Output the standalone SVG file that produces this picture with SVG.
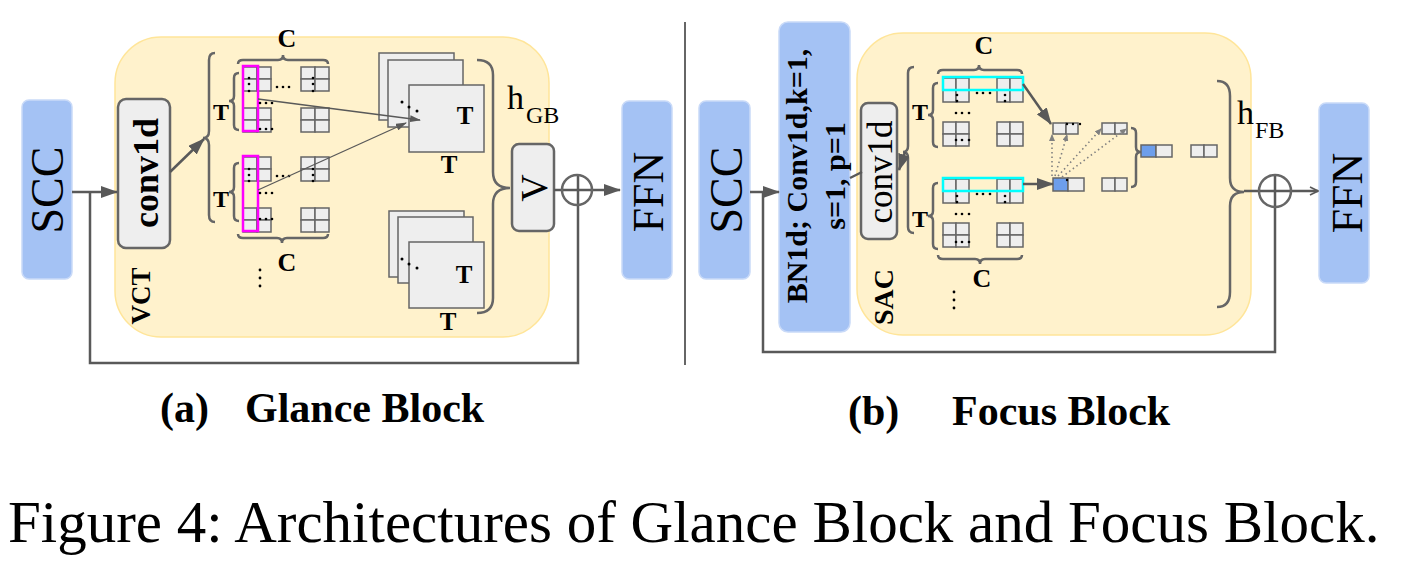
<svg xmlns="http://www.w3.org/2000/svg" xmlns:xlink="http://www.w3.org/1999/xlink" width="1403" height="582" viewBox="0 0 1403 582">
<style>
.blue{fill:#a4c2f4;stroke:#c9daf8;stroke-width:1.5}
.yel{fill:#fff2cc;stroke:#ffe599;stroke-width:1.5}
.gbox{fill:#eeeeee;stroke:#666666;stroke-width:2.5}
.cell{fill:#eeeeee;stroke:#666666;stroke-width:1.5}
.bcell{fill:#6d9eeb;stroke:#666666;stroke-width:1.5}
.sq{fill:#eeeeee;stroke:#666666;stroke-width:1.5}
.ln{fill:none;stroke:#595959;stroke-width:2.5}
.thin{fill:none;stroke:#595959;stroke-width:1.3}
.dot{fill:none;stroke:#808080;stroke-width:1.6;stroke-dasharray:1.5 3}
.brace{fill:none;stroke:#666666;stroke-width:2.5}
.mag{fill:none;stroke:#ff00ff;stroke-width:2.5}
.cy{fill:none;stroke:#00ffff;stroke-width:2.5}
text{font-family:"Liberation Serif","Times New Roman",serif;fill:#000}
.b{font-weight:bold}
.d{fill:#000}
</style>
<defs>
<marker id="aBig" markerUnits="userSpaceOnUse" markerWidth="17" markerHeight="12" viewBox="0 0 17 12" refX="16" refY="6" orient="auto"><path d="M0,0 L17,6 L0,12 z" fill="#595959"/></marker>
<marker id="aSm" markerUnits="userSpaceOnUse" markerWidth="11" markerHeight="7" viewBox="0 0 11 7" refX="10" refY="3.5" orient="auto"><path d="M0,0 L11,3.5 L0,7 z" fill="#595959"/></marker>
<marker id="aTiny" markerUnits="userSpaceOnUse" markerWidth="7" markerHeight="6" viewBox="0 0 7 6" refX="6" refY="3" orient="auto"><path d="M0,0 L7,3 L0,6 z" fill="#808080"/></marker>
<marker id="aOpen" markerUnits="userSpaceOnUse" markerWidth="10" markerHeight="10" viewBox="0 0 10 10" refX="9" refY="5" orient="auto"><path d="M1,1 L9,5 L1,9" fill="none" stroke="#595959" stroke-width="1.6"/></marker>
<g id="bA"><rect class="cell" x="0" y="0" width="14" height="12"/><rect class="cell" x="14" y="0" width="14" height="12"/><rect class="cell" x="0" y="12" width="14" height="12"/><rect class="cell" x="14" y="12" width="14" height="12"/></g>
<g id="bB"><rect class="cell" x="0" y="0" width="13" height="12"/><rect class="cell" x="13" y="0" width="13" height="12"/><rect class="cell" x="0" y="12" width="13" height="12"/><rect class="cell" x="13" y="12" width="13" height="12"/></g>
</defs>
<rect width="1403" height="582" fill="#ffffff"/>

<!-- ===== (a) Glance Block ===== -->
<g id="vct">
<rect class="yel" x="115" y="37" width="434" height="300" rx="46"/>
<text class="b" transform="translate(150,296) rotate(-90)" font-size="27" text-anchor="middle">VCT</text>
</g>
<g id="scc-a">
<rect class="blue" x="22" y="100" width="50" height="179" rx="7"/>
<text transform="translate(63,190) rotate(-90)" font-size="46" text-anchor="middle">SCC</text>
</g>
<g id="conv1d-a">
<rect class="gbox" x="118" y="99" width="52" height="149" rx="8"/>
<text class="b" transform="translate(158,173) rotate(-90)" font-size="36" text-anchor="middle">conv1d</text>
</g>
<g id="grid-a">
<path class="brace" d="M215 53 Q209 53 209 60 L209 131 Q209 138 203 138 Q209 138 209 145 L209 215 Q209 222 215 222"/>
<path class="brace" d="M238 64 Q238 60 243 60 L278 60 Q283 60 283 55 Q283 60 288 60 L323 60 Q328 60 328 64"/>
<text class="b" x="287" y="47" font-size="26" text-anchor="middle">C</text>
<path class="brace" d="M239 73 Q234 73 234 78 L234 96 Q234 101 229 101 Q234 101 234 106 L234 125 Q234 130 239 130"/>
<text class="b" x="221" y="120" font-size="24" text-anchor="middle">T</text>
<use xlink:href="#bA" x="243" y="67"/>
<use xlink:href="#bA" x="301" y="67"/>
<use xlink:href="#bA" x="243" y="108"/>
<use xlink:href="#bA" x="301" y="108"/>
<rect class="mag" x="243" y="66" width="15" height="65"/>
<g class="d">
<circle cx="249" cy="78" r="1.3"/><circle cx="249" cy="84" r="1.3"/><circle cx="249" cy="91" r="1.3"/>
<circle cx="313" cy="78" r="1.3"/><circle cx="313" cy="84" r="1.3"/><circle cx="313" cy="91" r="1.3"/>
<circle cx="277" cy="87" r="1.3"/><circle cx="283" cy="87" r="1.3"/><circle cx="289" cy="87" r="1.3"/>
<circle cx="260" cy="103" r="1.3"/><circle cx="266" cy="103" r="1.3"/><circle cx="272" cy="103" r="1.3"/>
<circle cx="260" cy="129" r="1.3"/><circle cx="266" cy="129" r="1.3"/><circle cx="272" cy="129" r="1.3"/>
</g>
<path class="brace" d="M239 163 Q234 163 234 168 L234 187 Q234 192 229 192 Q234 192 234 197 L234 216 Q234 221 239 221"/>
<text class="b" x="221" y="207" font-size="24" text-anchor="middle">T</text>
<use xlink:href="#bA" x="243" y="157"/>
<use xlink:href="#bA" x="301" y="157"/>
<use xlink:href="#bA" x="243" y="208"/>
<use xlink:href="#bA" x="301" y="208"/>
<rect class="mag" x="243" y="156" width="15" height="75"/>
<g class="d">
<circle cx="249" cy="169" r="1.3"/><circle cx="249" cy="175" r="1.3"/><circle cx="249" cy="181" r="1.3"/>
<circle cx="313" cy="169" r="1.3"/><circle cx="313" cy="175" r="1.3"/><circle cx="313" cy="181" r="1.3"/>
<circle cx="277" cy="176" r="1.3"/><circle cx="283" cy="176" r="1.3"/><circle cx="289" cy="176" r="1.3"/>
<circle cx="260" cy="193" r="1.3"/><circle cx="266" cy="193" r="1.3"/><circle cx="272" cy="193" r="1.3"/>
<circle cx="260" cy="219" r="1.3"/><circle cx="266" cy="219" r="1.3"/><circle cx="272" cy="219" r="1.3"/>
<circle cx="260" cy="270" r="1.4"/><circle cx="260" cy="278" r="1.4"/><circle cx="260" cy="286" r="1.4"/>
</g>
<path class="brace" d="M238 234 Q238 238 243 238 L277 238 Q282 238 282 243 Q282 238 287 238 L323 238 Q328 238 328 234"/>
<text class="b" x="287" y="271" font-size="26" text-anchor="middle">C</text>
</g>
<g id="stack-a1">
<rect class="sq" x="379" y="53" width="75" height="67"/>
<rect class="sq" x="388" y="60" width="75" height="67"/>
<rect class="sq" x="409" y="85" width="75" height="67"/>
<g class="d"><circle cx="402" cy="102" r="1.5"/><circle cx="409" cy="107" r="1.5"/><circle cx="417" cy="111" r="1.5"/></g>
<text class="b" x="465" y="124" font-size="25" text-anchor="middle">T</text>
<text class="b" x="449" y="173" font-size="25" text-anchor="middle">T</text>
</g>
<g id="stack-a2">
<rect class="sq" x="389" y="211" width="75" height="66"/>
<rect class="sq" x="398" y="217" width="75" height="66"/>
<rect class="sq" x="409" y="242" width="75" height="66"/>
<g class="d"><circle cx="402" cy="259" r="1.5"/><circle cx="409" cy="264" r="1.5"/><circle cx="417" cy="268" r="1.5"/></g>
<text class="b" x="464" y="283" font-size="25" text-anchor="middle">T</text>
<text class="b" x="448" y="330" font-size="25" text-anchor="middle">T</text>
</g>
<g id="hgb">
<path class="brace" d="M477 60 Q493 60 493 75 L493 172 Q493 188 510 188 Q493 188 493 204 L493 298 Q493 313 477 313"/>
<text x="507" y="109" font-size="34">h<tspan x="526" y="123" font-size="24">GB</tspan></text>
</g>
<g id="v-box">
<rect class="gbox" x="512" y="144" width="42" height="87" rx="7"/>
<text transform="translate(547,188) rotate(-90)" font-size="38" text-anchor="middle">V</text>
</g>
<g id="ffn-a">
<rect class="blue" x="622" y="101" width="50" height="178" rx="7"/>
<text transform="translate(663,192) rotate(-90)" font-size="44" text-anchor="middle">FFN</text>
</g>

<!-- ===== (b) Focus Block ===== -->
<g id="sac">
<rect class="yel" x="857" y="33" width="394" height="302" rx="46"/>
<text class="b" transform="translate(893,297) rotate(-90)" font-size="28" text-anchor="middle">SAC</text>
</g>
<g id="scc-b">
<rect class="blue" x="699" y="101" width="51" height="178" rx="7"/>
<text transform="translate(742,190) rotate(-90)" font-size="46" text-anchor="middle">SCC</text>
</g>
<g id="bn1d">
<rect class="blue" x="779" y="22" width="71" height="310" rx="9"/>
<text class="b" transform="translate(807,176) rotate(-90)" font-size="30" text-anchor="middle">BN1d; Conv1d,k=1,</text>
<text class="b" transform="translate(845,176) rotate(-90)" font-size="30" text-anchor="middle">s=1, p=1</text>
</g>
<g id="conv1d-b">
<rect class="gbox" x="861" y="103" width="36" height="136" rx="7"/>
<text transform="translate(892,172) rotate(-90)" font-size="35" text-anchor="middle">conv1d</text>
</g>
<g id="grid-b">
<path class="brace" d="M914 67 Q908 67 908 73 L908 146 Q908 152 903 152 Q908 152 908 158 L908 227 Q908 233 914 233"/>
<path class="brace" d="M938 74 Q938 70 943 70 L974 70 Q979 70 979 65 Q979 70 984 70 L1017 70 Q1022 70 1022 74"/>
<text class="b" x="984" y="54" font-size="26" text-anchor="middle">C</text>
<path class="brace" d="M938 83 Q933 83 933 88 L933 110 Q933 115 928 115 Q933 115 933 120 L933 142 Q933 147 938 147"/>
<text class="b" x="920" y="120" font-size="24" text-anchor="middle">T</text>
<use xlink:href="#bB" x="943" y="78"/>
<use xlink:href="#bB" x="997" y="78"/>
<use xlink:href="#bB" x="943" y="122"/>
<use xlink:href="#bB" x="997" y="122"/>
<rect class="cy" x="943" y="77" width="80" height="13"/>
<g class="d">
<circle cx="957" cy="95" r="1.3"/><circle cx="957" cy="101" r="1.3"/>
<circle cx="1005" cy="95" r="1.3"/><circle cx="1005" cy="101" r="1.3"/>
<circle cx="977" cy="93" r="1.3"/><circle cx="983" cy="93" r="1.3"/><circle cx="990" cy="93" r="1.3"/>
<circle cx="956" cy="113" r="1.3"/><circle cx="962" cy="113" r="1.3"/><circle cx="969" cy="113" r="1.3"/>
<circle cx="956" cy="140" r="1.3"/><circle cx="962" cy="140" r="1.3"/><circle cx="969" cy="140" r="1.3"/>
</g>
<path class="brace" d="M938 183 Q933 183 933 188 L933 211 Q933 216 928 216 Q933 216 933 221 L933 244 Q933 249 938 249"/>
<text class="b" x="920" y="227" font-size="24" text-anchor="middle">T</text>
<use xlink:href="#bB" x="943" y="179"/>
<use xlink:href="#bB" x="997" y="179"/>
<use xlink:href="#bB" x="943" y="223"/>
<use xlink:href="#bB" x="997" y="223"/>
<rect class="cy" x="943" y="178" width="80" height="13"/>
<g class="d">
<circle cx="957" cy="196" r="1.3"/><circle cx="957" cy="202" r="1.3"/>
<circle cx="1005" cy="196" r="1.3"/><circle cx="1005" cy="202" r="1.3"/>
<circle cx="977" cy="194" r="1.3"/><circle cx="983" cy="194" r="1.3"/><circle cx="990" cy="194" r="1.3"/>
<circle cx="956" cy="214" r="1.3"/><circle cx="962" cy="214" r="1.3"/><circle cx="969" cy="214" r="1.3"/>
<circle cx="956" cy="242" r="1.3"/><circle cx="962" cy="242" r="1.3"/><circle cx="969" cy="242" r="1.3"/>
<circle cx="954" cy="292" r="1.4"/><circle cx="954" cy="300" r="1.4"/><circle cx="954" cy="308" r="1.4"/>
</g>
<path class="brace" d="M938 255 Q938 259 943 259 L975 259 Q980 259 980 264 Q980 259 985 259 L1017 259 Q1022 259 1022 255"/>
<text class="b" x="982" y="287" font-size="26" text-anchor="middle">C</text>
</g>
<g id="attn">
<rect class="cell" x="1053" y="123" width="13" height="11"/><rect class="cell" x="1066" y="123" width="12" height="11"/>
<rect class="cell" x="1102" y="123" width="13" height="11"/><rect class="cell" x="1115" y="123" width="12" height="11"/>
<rect class="bcell" x="1053" y="178" width="15" height="13"/><rect class="cell" x="1068" y="178" width="16" height="13"/>
<rect class="cell" x="1102" y="178" width="13" height="13"/><rect class="cell" x="1115" y="178" width="12" height="13"/>
<g class="d"><circle cx="1067" cy="124" r="1.2"/><circle cx="1073" cy="124" r="1.2"/><circle cx="1080" cy="124" r="1.2"/><circle cx="1067" cy="180" r="1.2"/></g>
<path class="brace" d="M1131 128 Q1136 128 1136 133 L1136 147 Q1136 152 1141 152 Q1136 152 1136 157 L1136 182 Q1136 187 1131 187" stroke-width="2"/>
<rect class="bcell" x="1141" y="145" width="15" height="12"/><rect class="cell" x="1156" y="145" width="16" height="12"/>
<rect class="cell" x="1191" y="145" width="13" height="12"/><rect class="cell" x="1204" y="145" width="13" height="12"/>
</g>
<g id="hfb">
<path class="brace" d="M1217 81 Q1230 81 1230 96 L1230 178 Q1230 192 1244 192 Q1230 192 1230 206 L1230 292 Q1230 307 1217 307"/>
<text x="1237" y="124" font-size="34">h<tspan x="1255" y="138" font-size="24">FB</tspan></text>
</g>
<g id="ffn-b">
<rect class="blue" x="1319" y="103" width="50" height="180" rx="7"/>
<text transform="translate(1362,193) rotate(-90)" font-size="44" text-anchor="middle">FFN</text>
</g>

<!-- ===== connectors ===== -->
<g id="connectors">
<line class="ln" x1="72" y1="192" x2="117" y2="192" marker-end="url(#aBig)"/>
<path class="ln" d="M90 192 L90 363 L578 363 L578 175"/>
<line class="ln" x1="170" y1="172" x2="204" y2="139" marker-end="url(#aBig)"/>
<line class="thin" x1="258" y1="99" x2="420" y2="120" marker-end="url(#aSm)"/>
<line class="thin" x1="258" y1="190" x2="406" y2="123" marker-end="url(#aSm)"/>
<line class="ln" x1="554" y1="190" x2="620" y2="190" marker-end="url(#aBig)"/>
<circle cx="577" cy="190" r="15" fill="none" stroke="#666666" stroke-width="2.5"/>
<line x1="685" y1="22" x2="685" y2="365" stroke="#666666" stroke-width="2"/>

<line class="ln" x1="750" y1="192" x2="779" y2="192" marker-end="url(#aBig)"/>
<path class="ln" d="M763 192 L763 352 L1275 352 L1275 176"/>
<line class="ln" x1="850" y1="178" x2="862" y2="172"/>
<line class="ln" x1="905" y1="152" x2="899" y2="170" marker-end="url(#aBig)"/>
<line class="ln" x1="1023" y1="84" x2="1051" y2="124" marker-end="url(#aBig)"/>
<line class="ln" x1="1023" y1="184" x2="1053" y2="184" marker-end="url(#aBig)"/>
<line class="dot" x1="1052" y1="176" x2="1052" y2="135" marker-end="url(#aTiny)"/>
<line class="dot" x1="1055" y1="176" x2="1067" y2="135" marker-end="url(#aTiny)"/>
<line class="dot" x1="1058" y1="176" x2="1101" y2="129" marker-end="url(#aTiny)"/>
<line class="dot" x1="1062" y1="177" x2="1126" y2="129" marker-end="url(#aTiny)"/>
<line class="ln" x1="1244" y1="191" x2="1318" y2="191" marker-end="url(#aOpen)"/>
<circle cx="1275" cy="191" r="16" fill="none" stroke="#666666" stroke-width="2.5"/>
</g>

<!-- ===== captions ===== -->
<g id="captions">
<text class="b" x="160" y="422" font-size="42">(a)</text>
<text class="b" x="245" y="422" font-size="42">Glance Block</text>
<text class="b" x="848" y="425" font-size="42">(b)</text>
<text class="b" x="952" y="425" font-size="42">Focus Block</text>
<text x="8" y="542" font-size="59">Figure 4: Architectures of Glance Block and Focus Block.</text>
</g>
</svg>
